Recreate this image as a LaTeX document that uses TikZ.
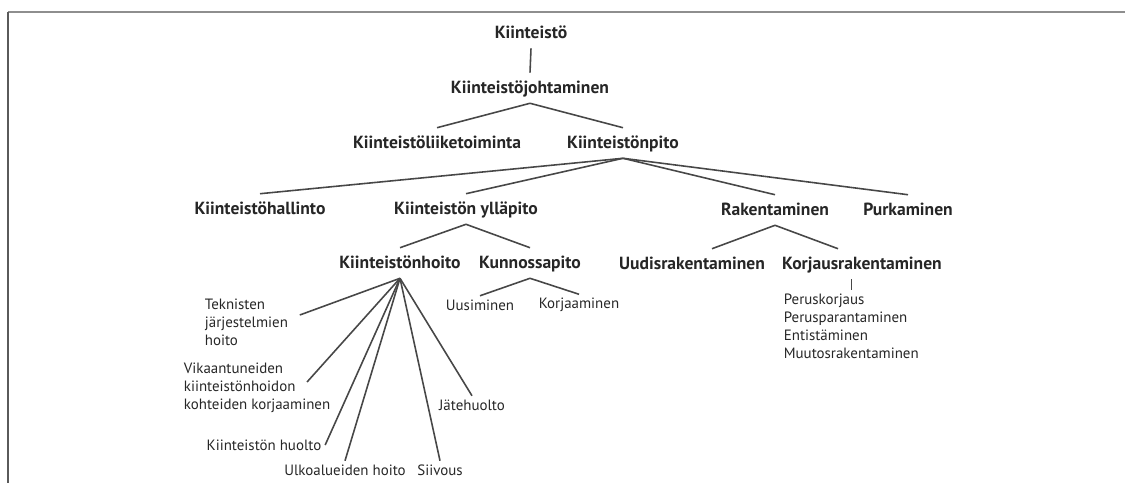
\documentclass[tikz,border=0pt]{standalone}
\usepackage{fontspec}
\setmainfont{PT Sans}
\usetikzlibrary{calc}
\definecolor{inkdark}{HTML}{262626}
\definecolor{linegray}{HTML}{474747}
\definecolor{framegray}{HTML}{8E8E8E}
\definecolor{framedark}{HTML}{5A5A5A}

\begin{document}
\begin{tikzpicture}[
  x=0.02cm, y=-0.02cm,
  main/.style={font=\fontsize{10}{12}\selectfont\bfseries, text=inkdark,
    inner sep=3.5pt, text height=1.6ex, text depth=.4ex},
  leaf/.style={font=\fontsize{8.5}{10.2}\selectfont, text=inkdark, inner sep=2pt},
  leafblock/.style={leaf, align=left, anchor=west},
  branch/.style={draw=linegray, line width=0.9pt},
]

% Page frame: grey rule on top, darker rule on the left
\useasboundingbox (0,0) rectangle (1125,483);
\draw[framegray, line width=1.6pt] (8,12) -- (1125,12);
\draw[framedark, line width=1.1pt] (8,12) -- (8,483);

% ============================================================
% Upper levels
% ============================================================
\node[main] (root)  at (531,33)  {Kiinteistö};
\node[main] (johto) at (530,88)  {Kiinteistöjohtaminen};
\node[main] (liike) at (437,143) {Kiinteistöliiketoiminta};
\node[main] (pito)  at (623,143) {Kiinteistönpito};

\draw[branch] (root.south) -- (johto.north);
\draw[branch] (johto.south) -- (liike.north);
\draw[branch] (johto.south) -- (pito.north);

% ============================================================
% Kiinteistönpito and its branches
% ============================================================
\node[main] (hallinto) at (260,209) {Kiinteistöhallinto};
\node[main] (yllapito) at (466,209) {Kiinteistön ylläpito};
\node[main] (rak)      at (775,210) {Rakentaminen};
\node[main] (purku)    at (908,210) {Purkaminen};

\draw[branch] (pito.south) -- (hallinto.north);
\draw[branch] (pito.south) -- (yllapito.north);
\draw[branch] (pito.south) -- (rak.north);
\draw[branch] (pito.south) -- (purku.north);

% Ylläpito
\node[main] (hoito)    at (400,263) {Kiinteistönhoito};
\node[main] (kunnossa) at (530,263) {Kunnossapito};

\draw[branch] (yllapito.south) -- (hoito.north);
\draw[branch] (yllapito.south) -- (kunnossa.north);

% Rakentaminen
\node[main] (uudis)   at (692,264) {Uudisrakentaminen};
\node[main] (korjaus) at (862,264) {Korjausrakentaminen};

\draw[branch] (rak.south) -- ($(uudis.north)+(20,0)$);
\draw[branch] (rak.south) -- ($(korjaus.north)+(-24,0)$);

% ============================================================
% Leaves
% ============================================================
\node[leaf] (uusi)   at (480,305) {Uusiminen};
\node[leaf] (korjaa) at (579,305) {Korjaaminen};

\draw[branch] (kunnossa.south) -- (uusi.north);
\draw[branch] (kunnossa.south) -- (korjaa.north);

\node[leafblock] (lista) at (780,326)
  {Peruskorjaus\\Perusparantaminen\\Entistäminen\\Muutosrakentaminen};
\draw[branch] (lista.north |- korjaus.south) -- (lista.north);

% Kiinteistönhoito fan
\node[leafblock] (tek) at (201,322) {Teknisten\\järjestelmien\\hoito};
\node[leafblock] (vik) at (180,388)
  {Vikaantuneiden\\kiinteistönhoidon\\kohteiden korjaaminen};
\node[leaf] (huolto)  at (264,445) {Kiinteistön huolto};
\node[leaf] (ulko)    at (345,470) {Ulkoalueiden hoito};
\node[leaf] (siivous) at (440,470) {Siivous};
\node[leaf] (jate)    at (472,405) {Jätehuolto};

\coordinate (tekin) at ($(tek.east)+(8,-7)$);
\coordinate (vikin) at ($(vik.east)+(-27,-6)$);

\draw[branch] (hoito.south) -- (tekin);
\draw[branch] (hoito.south) -- (vikin);
\draw[branch] (hoito.south) -- (huolto.east);
\draw[branch] (hoito.south) -- (ulko.north);
\draw[branch] (hoito.south) -- (siivous.north);
\draw[branch] (hoito.south) -- (jate.north);

\end{tikzpicture}
\end{document}
